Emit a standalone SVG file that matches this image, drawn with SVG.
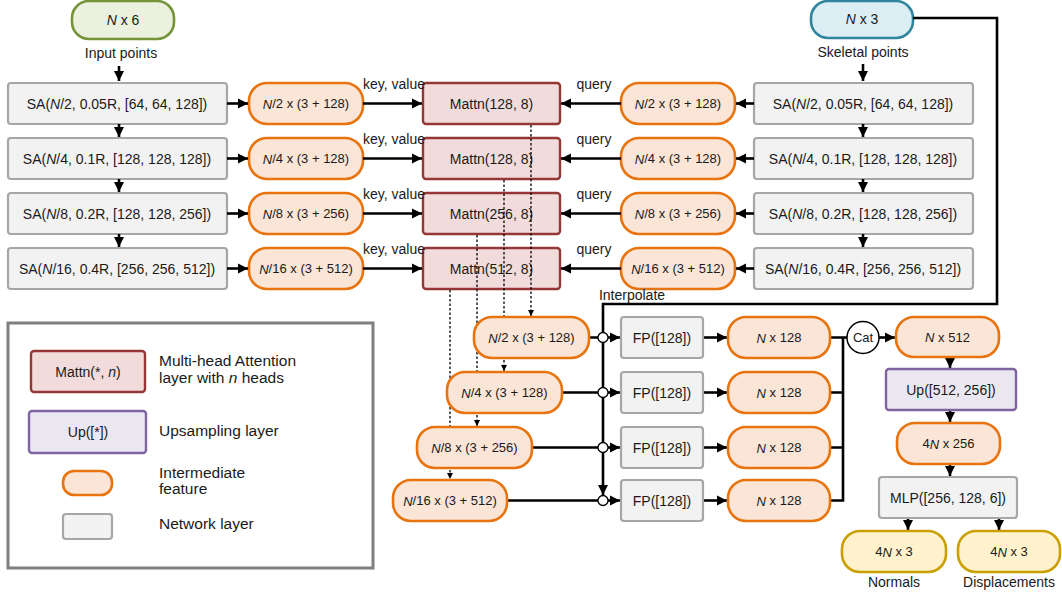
<svg xmlns="http://www.w3.org/2000/svg" width="1062" height="598" viewBox="0 0 1062 598">
<defs>
<style>
text{font-family:"Liberation Sans",Arial,sans-serif;font-size:14px;fill:#1a1a1a;text-anchor:middle;dominant-baseline:central}
.lbl{dominant-baseline:alphabetic}
.lt{text-anchor:start;dominant-baseline:alphabetic;font-size:15.5px}
.sm{font-size:13px}
.i{font-style:italic}
.gray{fill:#f2f2f2;stroke:#a6a6a6;stroke-width:2.2}
.feat{fill:#fbe5d6;stroke:#e8740f;stroke-width:2.6}
.attn{fill:#f2dcdb;stroke:#953735;stroke-width:2.4}
.up{fill:#ebe7f0;stroke:#8064a2;stroke-width:2.4}
.inp{fill:#ebf1de;stroke:#77933c;stroke-width:2.6}
.skel{fill:#daeef3;stroke:#31859c;stroke-width:2.6}
.out{fill:#fff2cc;stroke:#c9a000;stroke-width:2.6}
.ar{fill:none;stroke:#000;stroke-width:2.6;marker-end:url(#ah)}
.ln{fill:none;stroke:#000;stroke-width:2.6}
.dt{fill:none;stroke:#000;stroke-width:1.3;stroke-dasharray:2.5 2;marker-end:url(#sh)}
.jn{fill:#fff;stroke:#000;stroke-width:1.3}
</style>
<marker id="ah" viewBox="0 0 10 10" refX="10" refY="5" markerWidth="4" markerHeight="4" orient="auto" markerUnits="strokeWidth"><path d="M0,0L10,5L0,10z" fill="#000"/></marker>
<marker id="sh" viewBox="0 0 10 10" refX="10" refY="5" markerWidth="5" markerHeight="5" orient="auto" markerUnits="strokeWidth"><path d="M0,0L10,5L0,10z" fill="#000"/></marker>
</defs>
<rect width="1062" height="598" fill="#fff"/>

<!-- inputs -->
<g id="input"><rect class="inp" x="72" y="1" width="102" height="38" rx="17"/><text x="123" y="20"><tspan class="i">N</tspan> x 6</text><text class="lbl" x="121" y="58">Input points</text></g>
<g id="skeletal"><rect class="skel" x="811" y="1" width="102" height="37" rx="17"/><text x="862" y="19"><tspan class="i">N</tspan> x 3</text><text class="lbl" x="863" y="57">Skeletal points</text></g>

<!-- left SA -->
<g id="saL1"><rect class="gray" x="8" y="83" width="219" height="41" rx="3"/><text x="117" y="103.5">SA(<tspan class="i">N</tspan>/2, 0.05R, [64, 64, 128])</text></g>
<g id="saL2"><rect class="gray" x="8" y="138" width="219" height="41" rx="3"/><text x="117" y="158.5">SA(<tspan class="i">N</tspan>/4, 0.1R, [128, 128, 128])</text></g>
<g id="saL3"><rect class="gray" x="8" y="193" width="219" height="41" rx="3"/><text x="117" y="213.5">SA(<tspan class="i">N</tspan>/8, 0.2R, [128, 128, 256])</text></g>
<g id="saL4"><rect class="gray" x="8" y="248" width="219" height="41" rx="3"/><text x="117" y="268.5">SA(<tspan class="i">N</tspan>/16, 0.4R, [256, 256, 512])</text></g>

<!-- left features -->
<g id="fL1"><rect class="feat" x="249" y="83" width="114" height="41" rx="18"/><text class="sm" x="306" y="103.5"><tspan class="i">N</tspan>/2 x (3 + 128)</text></g>
<g id="fL2"><rect class="feat" x="249" y="138" width="114" height="41" rx="18"/><text class="sm" x="306" y="158.5"><tspan class="i">N</tspan>/4 x (3 + 128)</text></g>
<g id="fL3"><rect class="feat" x="249" y="193" width="114" height="41" rx="18"/><text class="sm" x="306" y="213.5"><tspan class="i">N</tspan>/8 x (3 + 256)</text></g>
<g id="fL4"><rect class="feat" x="249" y="248" width="114" height="41" rx="18"/><text class="sm" x="306" y="268.5"><tspan class="i">N</tspan>/16 x (3 + 512)</text></g>

<!-- attention -->
<g id="attn1"><rect class="attn" x="423" y="83" width="137" height="41" rx="3"/><text x="491.5" y="103.5">Mattn(128, 8)</text></g>
<g id="attn2"><rect class="attn" x="423" y="138" width="137" height="41" rx="3"/><text x="491.5" y="158.5">Mattn(128, 8)</text></g>
<g id="attn3"><rect class="attn" x="423" y="193" width="137" height="41" rx="3"/><text x="491.5" y="213.5">Mattn(256, 8)</text></g>
<g id="attn4"><rect class="attn" x="423" y="248" width="137" height="41" rx="3"/><text x="491.5" y="268.5">Mattn(512, 8)</text></g>

<!-- right features -->
<g id="fR1"><rect class="feat" x="621" y="83" width="114" height="41" rx="18"/><text class="sm" x="678" y="103.5"><tspan class="i">N</tspan>/2 x (3 + 128)</text></g>
<g id="fR2"><rect class="feat" x="621" y="138" width="114" height="41" rx="18"/><text class="sm" x="678" y="158.5"><tspan class="i">N</tspan>/4 x (3 + 128)</text></g>
<g id="fR3"><rect class="feat" x="621" y="193" width="114" height="41" rx="18"/><text class="sm" x="678" y="213.5"><tspan class="i">N</tspan>/8 x (3 + 256)</text></g>
<g id="fR4"><rect class="feat" x="621" y="248" width="114" height="41" rx="18"/><text class="sm" x="678" y="268.5"><tspan class="i">N</tspan>/16 x (3 + 512)</text></g>

<!-- right SA -->
<g id="saR1"><rect class="gray" x="754" y="83" width="219" height="41" rx="3"/><text x="863" y="103.5">SA(<tspan class="i">N</tspan>/2, 0.05R, [64, 64, 128])</text></g>
<g id="saR2"><rect class="gray" x="754" y="138" width="219" height="41" rx="3"/><text x="863" y="158.5">SA(<tspan class="i">N</tspan>/4, 0.1R, [128, 128, 128])</text></g>
<g id="saR3"><rect class="gray" x="754" y="193" width="219" height="41" rx="3"/><text x="863" y="213.5">SA(<tspan class="i">N</tspan>/8, 0.2R, [128, 128, 256])</text></g>
<g id="saR4"><rect class="gray" x="754" y="248" width="219" height="41" rx="3"/><text x="863" y="268.5">SA(<tspan class="i">N</tspan>/16, 0.4R, [256, 256, 512])</text></g>

<!-- connectors -->
<g id="connectors">
<path class="ar" d="M119,66V81"/>
<path class="ar" d="M119,124V137"/>
<path class="ar" d="M119,179V192"/>
<path class="ar" d="M119,234V247"/>
<path class="ar" d="M863,64V81"/>
<path class="ar" d="M863,124V137"/>
<path class="ar" d="M863,179V192"/>
<path class="ar" d="M863,234V247"/>
<path class="ar" d="M227,103.5H248"/>
<path class="ar" d="M227,158.5H248"/>
<path class="ar" d="M227,213.5H248"/>
<path class="ar" d="M227,268.5H248"/>
<path class="ar" d="M363,103.5H422"/>
<path class="ar" d="M363,158.5H422"/>
<path class="ar" d="M363,213.5H422"/>
<path class="ar" d="M363,268.5H422"/>
<path class="ar" d="M621,103.5H561"/>
<path class="ar" d="M621,158.5H561"/>
<path class="ar" d="M621,213.5H561"/>
<path class="ar" d="M621,268.5H561"/>
<path class="ar" d="M754,103.5H736"/>
<path class="ar" d="M754,158.5H736"/>
<path class="ar" d="M754,213.5H736"/>
<path class="ar" d="M754,268.5H736"/>
<path class="dt" d="M531,125V316"/>
<path class="dt" d="M504,180V371"/>
<path class="dt" d="M477,235V426"/>
<path class="dt" d="M450,290V479"/>
<path class="ln" d="M913,18H997V304H603V480"/>
<path class="ar" d="M603,480V495"/>
<path class="ln" d="M589,337.5H598M562,392.5H598M532,447.5H598M507,500.5H598"/>
<path class="ar" d="M608,337.5H620"/>
<path class="ar" d="M608,392.5H620"/>
<path class="ar" d="M608,447.5H620"/>
<path class="ar" d="M608,500.5H620"/>
<circle class="jn" cx="603" cy="337.5" r="5"/>
<circle class="jn" cx="603" cy="392.5" r="5"/>
<circle class="jn" cx="603" cy="447.5" r="5"/>
<circle class="jn" cx="603" cy="500.5" r="5"/>
<path class="ar" d="M703,337.5H727"/>
<path class="ar" d="M703,392.5H727"/>
<path class="ar" d="M703,447.5H727"/>
<path class="ar" d="M703,500.5H727"/>
<path class="ln" d="M830,337.5H847M830,392.5H843M830,447.5H843M830,500.5H843M843,336.5V501.7"/>
<path class="ar" d="M879,337.5H895"/>
<path class="ar" d="M950,357V368"/>
<path class="ar" d="M950,410V422"/>
<path class="ar" d="M950,464V476"/>
<path class="ar" d="M908,518V530"/>
<path class="ar" d="M999,518V530"/>
</g>
<g id="edge-labels">
<text class="lbl" x="394" y="89">key, value</text>
<text class="lbl" x="394" y="144">key, value</text>
<text class="lbl" x="394" y="199">key, value</text>
<text class="lbl" x="394" y="254">key, value</text>
<text class="lbl" x="594" y="89">query</text>
<text class="lbl" x="594" y="144">query</text>
<text class="lbl" x="594" y="199">query</text>
<text class="lbl" x="594" y="254">query</text>
<text class="lbl" x="632" y="300">Interpolate</text>
</g>

<!-- lower features -->
<g id="fD1"><rect class="feat" x="474" y="317" width="115" height="41" rx="18"/><text class="sm" x="531.5" y="337.5"><tspan class="i">N</tspan>/2 x (3 + 128)</text></g>
<g id="fD2"><rect class="feat" x="447" y="372" width="115" height="41" rx="18"/><text class="sm" x="504.5" y="392.5"><tspan class="i">N</tspan>/4 x (3 + 128)</text></g>
<g id="fD3"><rect class="feat" x="417" y="427" width="115" height="41" rx="18"/><text class="sm" x="474.5" y="447.5"><tspan class="i">N</tspan>/8 x (3 + 256)</text></g>
<g id="fD4"><rect class="feat" x="393" y="480" width="114" height="41" rx="18"/><text class="sm" x="450" y="500.5"><tspan class="i">N</tspan>/16 x (3 + 512)</text></g>

<!-- FP -->
<g id="fp1"><rect class="gray" x="621" y="317" width="82" height="41" rx="3"/><text x="662" y="337.5">FP([128])</text></g>
<g id="fp2"><rect class="gray" x="621" y="372" width="82" height="41" rx="3"/><text x="662" y="392.5">FP([128])</text></g>
<g id="fp3"><rect class="gray" x="621" y="427" width="82" height="41" rx="3"/><text x="662" y="447.5">FP([128])</text></g>
<g id="fp4"><rect class="gray" x="621" y="480" width="82" height="41" rx="3"/><text x="662" y="500.5">FP([128])</text></g>

<g id="n1"><rect class="feat" x="728" y="317" width="102" height="41" rx="18"/><text class="sm" x="779" y="337.5"><tspan class="i">N</tspan> x 128</text></g>
<g id="n2"><rect class="feat" x="728" y="372" width="102" height="41" rx="18"/><text class="sm" x="779" y="392.5"><tspan class="i">N</tspan> x 128</text></g>
<g id="n3"><rect class="feat" x="728" y="427" width="102" height="41" rx="18"/><text class="sm" x="779" y="447.5"><tspan class="i">N</tspan> x 128</text></g>
<g id="n4"><rect class="feat" x="728" y="480" width="102" height="41" rx="18"/><text class="sm" x="779" y="500.5"><tspan class="i">N</tspan> x 128</text></g>

<g id="cat"><circle cx="863" cy="337.5" r="16" fill="#fff" stroke="#000" stroke-width="1.5"/><text class="sm" x="863" y="337.5">Cat</text></g>
<g id="n512"><rect class="feat" x="896" y="317" width="103" height="40" rx="18"/><text class="sm" x="947.5" y="337"><tspan class="i">N</tspan> x 512</text></g>
<g id="up"><rect class="up" x="886" y="369" width="130" height="41" rx="3"/><text x="951" y="389.5">Up([512, 256])</text></g>
<g id="n256"><rect class="feat" x="897" y="423" width="103" height="41" rx="18"/><text class="sm" x="948.5" y="443.5">4<tspan class="i">N</tspan> x 256</text></g>
<g id="mlp"><rect class="gray" x="879" y="477" width="138" height="41" rx="3"/><text x="948" y="497.5">MLP([256, 128, 6])</text></g>
<g id="normals"><rect class="out" x="842" y="531" width="104" height="41" rx="18"/><text class="sm" x="894" y="551.5">4<tspan class="i">N</tspan> x 3</text><text class="lbl" x="894" y="587">Normals</text></g>
<g id="disp"><rect class="out" x="958" y="531" width="102" height="41" rx="18"/><text class="sm" x="1009" y="551.5">4<tspan class="i">N</tspan> x 3</text><text class="lbl" x="1009" y="587">Displacements</text></g>

<!-- legend -->
<g id="legend">
<rect x="8" y="323" width="365" height="245" fill="#fff" stroke="#7f7f7f" stroke-width="3"/>
<rect class="attn" x="31" y="351" width="114" height="41" rx="3"/><text x="88" y="371.5">Mattn(*, <tspan class="i">n</tspan>)</text>
<text class="lt" x="159" y="366">Multi-head Attention</text>
<text class="lt" x="159" y="383">layer with <tspan class="i">n</tspan> heads</text>
<rect class="up" x="29" y="411" width="117" height="42" rx="3"/><text x="88" y="432">Up([*])</text>
<text class="lt" x="159" y="436">Upsampling layer</text>
<rect class="feat" x="63" y="471" width="49" height="24" rx="11"/>
<text class="lt" x="159" y="478">Intermediate</text>
<text class="lt" x="159" y="494">feature</text>
<rect class="gray" x="63" y="514" width="49" height="25" rx="3"/>
<text class="lt" x="159" y="529">Network layer</text>
</g>
</svg>
